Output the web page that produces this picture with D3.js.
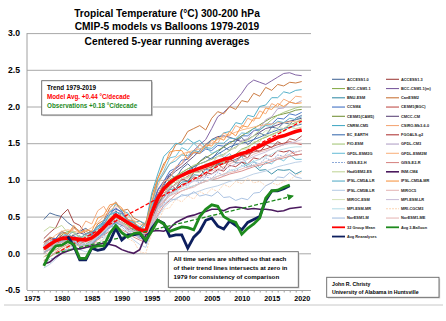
<!DOCTYPE html>
<html><head><meta charset="utf-8">
<script src="https://cdn.jsdelivr.net/npm/d3@7"></script>
<style>
html,body{margin:0;padding:0;background:#fff;}
svg{display:block;font-family:"Liberation Sans",Arial,sans-serif;}
</style></head><body>
<svg id="c" width="446" height="321"></svg>
<script>
// ---------- DATA ----------
const modelStart = 1977;   // centered 5-yr averages, models 1977-2020
const balloonStart = 1977; // 1977-2018
const reanStart = 1981;    // 1981-2018
const yTicks = [-0.5, 0, 0.5, 1.0, 1.5, 2.0, 2.5, 3.0];
const xLabels = [1975, 1980, 1985, 1990, 1995, 2000, 2005, 2010, 2015, 2020];

const legendNames = ["ACCESS1.0","ACCESS1.3","BCC-CSM1.1","BCC-CSM1.1(m)","BNU-ESM","CanESM2","CCSM4","CESM1(BGC)",
 "CESM1(CAM5)","CMCC-CM","CNRM-CM5","CSIRO-Mk3-6-0","EC_EARTH","FGOALS-g2","FIO-ESM","GFDL-CM3","GFDL-ESM2G","GFDL-ESM2M",
 "GISS-E2-H","GISS-E2-R","HadGEM2-ES","INM-CM4","IPSL-CM5A-LR","IPSL-CM5A-MR","IPSL-CM5B-LR","MIROC5","MIROC-ESM",
 "MPI-ESM-LR","MPI-ESM-MR","MRI-CGCM3","NorESM1-M","NorESM1-ME","32 Group Mean","Avg 3-Balloon","Avg Reanalyses"];

const ACCESS1_0 = [0.46,0.55,0.52,0.50,0.42,0.36,0.30,0.34,0.28,0.33,0.42,0.38,0.55,0.46,0.40,0.30,0.22,0.28,0.52,0.80,0.92,1.08,1.02,1.15,1.22,1.14,1.25,1.32,1.28,1.38,1.45,1.40,1.52,1.58,1.48,1.55,1.64,1.60,1.72,1.70,1.78,1.76,1.84,1.88];
const ACCESS1_3 = [0.20,0.28,0.35,0.52,0.60,0.42,0.38,0.26,0.30,0.24,0.40,0.48,0.44,0.55,0.42,0.40,0.30,0.34,0.48,0.72,0.80,0.94,0.88,1.02,0.98,1.10,1.16,1.06,1.18,1.22,1.15,1.28,1.24,1.34,1.30,1.42,1.38,1.48,1.44,1.52,1.48,1.56,1.54,1.60];
const BCC_CSM1_1 = [0.00,0.10,0.15,0.25,0.30,0.28,0.22,0.18,0.20,0.25,0.30,0.40,0.48,0.42,0.38,0.30,0.28,0.25,0.45,0.65,0.80,0.92,1.00,1.05,1.08,1.10,1.15,1.18,1.20,1.22,1.25,1.30,1.35,1.42,1.45,1.50,1.55,1.58,1.62,1.65,1.70,1.75,1.78,1.82];
const BCC_CSM1_1m = [0.10,0.15,0.20,0.22,0.25,0.20,0.18,0.20,0.25,0.30,0.40,0.52,0.62,0.55,0.45,0.40,0.35,0.32,0.60,0.85,0.98,1.08,1.15,1.22,1.30,1.40,1.48,1.55,1.70,1.86,1.92,2.00,2.08,2.18,2.30,2.36,2.33,2.30,2.35,2.40,2.45,2.46,2.43,2.42];
const BNU_ESM = [0.05,0.12,0.10,0.17,0.16,0.17,0.10,0.12,0.13,0.22,0.26,0.37,0.43,0.42,0.33,0.32,0.23,0.27,0.43,0.67,0.76,0.87,0.88,0.97,0.98,1.07,1.06,1.14,1.13,1.22,1.23,1.30,1.23,1.24,1.18,1.20,1.13,1.14,1.08,1.14,1.13,1.14,1.08,1.12];
const CanESM2 = [0.15,0.22,0.20,0.30,0.26,0.35,0.28,0.30,0.26,0.40,0.45,0.62,0.70,0.58,0.60,0.48,0.44,0.38,0.78,1.02,1.22,1.32,1.48,1.52,1.66,1.70,1.74,1.68,1.84,1.93,1.90,2.00,1.96,2.08,2.06,2.18,2.14,2.26,2.22,2.30,2.28,2.33,2.32,2.34];
const CCSM4 = [0.12,0.20,0.20,0.30,0.23,0.24,0.18,0.24,0.26,0.37,0.43,0.57,0.60,0.57,0.46,0.42,0.33,0.40,0.63,0.87,0.98,1.12,1.16,1.27,1.28,1.37,1.36,1.42,1.40,1.47,1.46,1.52,1.53,1.60,1.60,1.67,1.68,1.76,1.76,1.84,1.83,1.90,1.88,1.92];
const CESM1_BGC = [0.00,0.05,0.12,0.18,0.22,0.20,0.15,0.12,0.15,0.22,0.30,0.38,0.45,0.40,0.35,0.30,0.28,0.25,0.48,0.68,0.80,0.88,0.95,1.00,1.05,1.10,1.12,1.15,1.18,1.20,1.22,1.25,1.28,1.32,1.35,1.38,1.40,1.42,1.45,1.48,1.50,1.52,1.50,1.48];
const CESM1_CAM5 = [-0.05,0.00,0.05,0.10,0.15,0.18,0.15,0.12,0.18,0.25,0.35,0.42,0.50,0.45,0.40,0.35,0.30,0.28,0.50,0.72,0.90,1.00,1.05,1.10,1.15,1.18,1.25,1.30,1.35,1.40,1.45,1.50,1.55,1.60,1.65,1.70,1.75,1.80,1.85,1.88,1.90,1.92,1.95,1.96];
const CMCC_CM = [0.10,0.12,0.15,0.18,0.20,0.25,0.28,0.25,0.22,0.28,0.35,0.45,0.58,0.50,0.42,0.38,0.35,0.33,0.58,0.80,0.95,1.05,1.12,1.18,1.25,1.32,1.40,1.48,1.55,1.59,1.60,1.58,1.55,1.52,1.55,1.60,1.65,1.70,1.72,1.75,1.78,1.80,1.82,1.84];
const CNRM_CM5 = [0.08,0.15,0.12,0.22,0.28,0.20,0.24,0.16,0.25,0.30,0.45,0.52,0.68,0.58,0.55,0.42,0.44,0.40,0.82,1.08,1.32,1.40,1.50,1.48,1.56,1.50,1.54,1.44,1.55,1.56,1.64,1.66,1.78,1.76,1.88,1.86,2.00,2.02,2.12,2.12,2.20,2.18,2.22,2.23];
const CSIRO_Mk3_6_0 = [0.05,0.10,0.08,0.20,0.22,0.34,0.30,0.44,0.40,0.58,0.64,0.50,0.52,0.38,0.36,0.28,0.30,0.26,0.58,0.78,0.98,1.02,1.18,1.22,1.38,1.36,1.48,1.42,1.54,1.50,1.64,1.60,1.74,1.70,1.84,1.80,1.94,1.90,2.04,2.00,2.10,2.06,2.14,2.13];
const EC_EARTH = [0.02,0.05,0.10,0.15,0.18,0.15,0.10,0.08,0.12,0.20,0.28,0.35,0.42,0.38,0.35,0.32,0.30,0.28,0.48,0.70,0.85,0.95,1.02,1.08,1.12,1.18,1.22,1.25,1.30,1.35,1.40,1.45,1.48,1.50,1.52,1.55,1.58,1.62,1.65,1.68,1.70,1.72,1.74,1.76];
const FGOALS_g2 = [0.15,0.20,0.18,0.24,0.18,0.20,0.12,0.17,0.18,0.30,0.33,0.42,0.44,0.42,0.33,0.34,0.28,0.32,0.46,0.64,0.70,0.82,0.86,0.94,0.96,1.04,1.02,1.10,1.08,1.14,1.12,1.20,1.18,1.24,1.22,1.30,1.28,1.34,1.32,1.40,1.38,1.40,1.34,1.35];
const FIO_ESM = [-0.10,-0.05,0.00,0.05,0.10,0.12,0.10,0.12,0.18,0.25,0.32,0.40,0.48,0.42,0.38,0.32,0.28,0.30,0.52,0.72,0.88,0.98,1.05,1.10,1.15,1.20,1.22,1.25,1.28,1.32,1.35,1.40,1.45,1.50,1.55,1.60,1.68,1.75,1.82,1.88,1.92,1.95,1.98,2.00];
const GFDL_CM3 = [0.05,0.12,0.13,0.22,0.20,0.22,0.16,0.17,0.16,0.24,0.28,0.40,0.43,0.42,0.33,0.30,0.23,0.24,0.40,0.64,0.76,0.90,0.93,1.02,1.03,1.12,1.13,1.22,1.23,1.32,1.33,1.42,1.43,1.54,1.56,1.67,1.70,1.82,1.86,1.97,1.98,2.06,2.04,2.08];
const GFDL_ESM2G = [0.10,0.18,0.14,0.28,0.24,0.30,0.20,0.24,0.22,0.36,0.38,0.54,0.56,0.54,0.42,0.44,0.32,0.38,0.62,0.98,1.12,1.30,1.32,1.44,1.40,1.50,1.42,1.46,1.36,1.40,1.30,1.36,1.26,1.32,1.20,1.26,1.16,1.24,1.22,1.30,1.26,1.34,1.28,1.28];
const GFDL_ESM2M = [0.12,0.18,0.25,0.30,0.32,0.30,0.28,0.30,0.35,0.42,0.50,0.58,0.65,0.60,0.52,0.45,0.40,0.38,0.68,0.92,1.10,1.22,1.30,1.35,1.38,1.40,1.42,1.45,1.50,1.55,1.58,1.62,1.65,1.68,1.70,1.72,1.74,1.75,1.76,1.78,1.78,1.79,1.80,1.80];
const GISS_E2_H = [-0.15,-0.08,-0.06,0.04,0.06,0.12,0.05,0.08,0.08,0.20,0.22,0.35,0.38,0.36,0.28,0.26,0.20,0.22,0.38,0.60,0.68,0.80,0.82,0.92,0.92,1.00,0.96,1.04,1.02,1.10,1.06,1.14,1.12,1.20,1.16,1.24,1.22,1.30,1.26,1.34,1.32,1.40,1.38,1.40];
const GISS_E2_R = [-0.10,-0.05,0.02,0.08,0.12,0.15,0.12,0.10,0.12,0.18,0.25,0.30,0.38,0.32,0.28,0.22,0.18,0.15,0.35,0.52,0.65,0.72,0.80,0.85,0.88,0.92,0.95,0.98,1.00,1.02,1.05,1.08,1.10,1.12,1.15,1.18,1.20,1.22,1.25,1.28,1.30,1.32,1.34,1.35];
const HadGEM2_ES = [0.30,0.36,0.34,0.38,0.28,0.30,0.22,0.24,0.22,0.32,0.36,0.48,0.50,0.50,0.40,0.40,0.32,0.34,0.52,0.78,0.86,0.98,0.96,1.05,1.02,1.10,1.10,1.18,1.15,1.25,1.22,1.33,1.32,1.42,1.42,1.52,1.52,1.62,1.60,1.66,1.66,1.72,1.70,1.72];
const INM_CM4 = [-0.15,-0.12,-0.05,0.00,0.03,0.06,0.06,0.08,0.10,0.12,0.14,0.12,0.10,0.05,0.02,0.00,0.05,0.25,0.30,0.31,0.30,0.34,0.42,0.46,0.50,0.52,0.55,0.57,0.60,0.60,0.58,0.62,0.63,0.62,0.60,0.61,0.60,0.60,0.59,0.57,0.58,0.61,0.62,0.63];
const IPSL_CM5A_LR = [0.05,0.10,0.10,0.17,0.16,0.22,0.20,0.27,0.28,0.37,0.40,0.52,0.56,0.54,0.43,0.42,0.36,0.42,0.68,0.97,1.08,1.22,1.26,1.34,1.33,1.40,1.38,1.44,1.43,1.50,1.50,1.57,1.56,1.64,1.63,1.70,1.68,1.74,1.73,1.80,1.78,1.84,1.82,1.86];
const IPSL_CM5A_MR = [0.05,0.12,0.16,0.28,0.26,0.38,0.28,0.32,0.30,0.48,0.52,0.66,0.68,0.62,0.46,0.44,0.32,0.42,0.70,1.02,1.18,1.38,1.40,1.40,1.28,1.38,1.36,1.48,1.46,1.58,1.54,1.66,1.60,1.74,1.72,1.84,1.84,1.98,1.96,2.04,2.00,2.06,2.04,2.05];
const IPSL_CM5B_LR = [-0.20,-0.15,-0.08,0.00,0.05,0.08,0.05,0.02,0.05,0.12,0.20,0.28,0.35,0.30,0.25,0.18,0.12,0.08,0.30,0.50,0.62,0.70,0.75,0.78,0.80,0.82,0.85,0.88,0.90,0.92,0.95,0.98,1.00,1.02,1.05,1.08,1.10,1.12,1.15,1.18,1.20,1.22,1.24,1.25];
const MIROC5 = [0.00,0.05,0.08,0.12,0.15,0.12,0.10,0.10,0.15,0.22,0.30,0.38,0.45,0.40,0.32,0.25,0.20,0.18,0.35,0.55,0.70,0.78,0.85,0.90,0.95,1.00,1.05,1.10,1.12,1.15,1.18,1.22,1.25,1.28,1.30,1.35,1.38,1.40,1.42,1.45,1.48,1.50,1.50,1.50];
const MIROC_ESM = [0.05,0.12,0.13,0.22,0.20,0.27,0.20,0.22,0.23,0.32,0.36,0.50,0.53,0.52,0.43,0.40,0.28,0.30,0.48,0.72,0.80,0.92,0.93,1.02,1.03,1.12,1.13,1.22,1.23,1.32,1.33,1.42,1.43,1.52,1.53,1.60,1.60,1.67,1.66,1.72,1.70,1.76,1.74,1.78];
const MPI_ESM_LR = [0.10,0.15,0.18,0.20,0.18,0.15,0.12,0.15,0.20,0.25,0.32,0.40,0.48,0.42,0.35,0.30,0.28,0.26,0.45,0.62,0.75,0.82,0.88,0.92,0.95,0.98,1.02,1.05,1.08,1.12,1.15,1.18,1.22,1.25,1.28,1.32,1.35,1.38,1.42,1.45,1.48,1.50,1.52,1.55];
const MPI_ESM_MR = [0.08,0.12,0.15,0.18,0.20,0.18,0.15,0.12,0.15,0.22,0.30,0.38,0.45,0.40,0.35,0.30,0.25,0.24,0.42,0.60,0.72,0.80,0.85,0.88,0.90,0.92,0.95,0.98,1.00,1.05,1.08,1.12,1.15,1.18,1.22,1.25,1.28,1.32,1.35,1.40,1.42,1.44,1.45,1.45];
const MRI_CGCM3 = [-0.05,0.02,0.04,0.10,0.06,0.14,0.08,0.10,0.06,0.18,0.18,0.30,0.34,0.32,0.20,0.16,0.02,0.00,0.28,0.42,0.60,0.62,0.74,0.70,0.78,0.74,0.84,0.80,0.88,0.84,0.94,0.90,0.98,0.95,1.02,0.96,0.98,0.92,0.96,0.93,0.98,1.00,1.06,1.10];
const NorESM1_M = [0.00,0.07,0.08,0.17,0.16,0.17,0.10,0.12,0.13,0.22,0.26,0.37,0.40,0.40,0.30,0.30,0.20,0.22,0.38,0.60,0.66,0.74,0.73,0.80,0.78,0.84,0.78,0.80,0.78,0.84,0.76,0.77,0.72,0.75,0.73,0.82,0.83,0.92,0.96,1.04,1.03,1.10,1.04,1.02];
const NorESM1_ME = [0.02,0.08,0.12,0.15,0.18,0.20,0.18,0.15,0.18,0.25,0.32,0.38,0.45,0.40,0.35,0.30,0.25,0.22,0.42,0.60,0.72,0.78,0.82,0.85,0.88,0.90,0.95,0.98,1.02,1.05,1.08,1.10,1.12,1.15,1.18,1.20,1.22,1.25,1.28,1.30,1.32,1.35,1.38,1.40];

const groupMean = [0.06,0.12,0.17,0.20,0.21,0.20,0.19,0.18,0.21,0.27,0.35,0.44,0.52,0.47,0.42,0.37,0.32,0.30,0.55,0.75,0.88,0.96,1.02,1.06,1.10,1.13,1.16,1.19,1.22,1.25,1.28,1.30,1.33,1.36,1.38,1.42,1.46,1.50,1.54,1.58,1.60,1.63,1.66,1.68];
const balloonAvg = [-0.17,0.00,0.10,0.11,0.16,0.12,-0.07,-0.07,0.08,0.10,0.10,0.27,0.38,0.28,0.22,0.27,0.28,0.18,0.30,0.45,0.40,0.30,0.33,0.36,0.35,0.32,0.50,0.60,0.66,0.64,0.50,0.45,0.42,0.26,0.34,0.40,0.48,0.75,0.85,0.86,0.90,0.93];
const reanalysesAvg = [0.23,0.10,-0.09,-0.09,0.07,0.04,0.06,0.16,0.34,0.18,0.25,0.25,0.27,0.16,0.34,0.45,0.41,0.23,0.25,0.25,0.07,0.22,0.30,0.45,0.48,0.37,0.33,0.44,0.38,0.32,0.42,0.46,0.50,0.72,0.85,0.85,0.88,0.92];

// trend lines (start year/value, end year/value)
const modelTrend = [[1979, 0.0], [2020, 1.80]];
const obsTrend = [[1979, 0.0], [2018.5, 0.78]];

const modelSeries = [ACCESS1_0,ACCESS1_3,BCC_CSM1_1,BCC_CSM1_1m,BNU_ESM,CanESM2,CCSM4,CESM1_BGC,CESM1_CAM5,CMCC_CM,
 CNRM_CM5,CSIRO_Mk3_6_0,EC_EARTH,FGOALS_g2,FIO_ESM,GFDL_CM3,GFDL_ESM2G,GFDL_ESM2M,GISS_E2_H,GISS_E2_R,HadGEM2_ES,
 INM_CM4,IPSL_CM5A_LR,IPSL_CM5A_MR,IPSL_CM5B_LR,MIROC5,MIROC_ESM,MPI_ESM_LR,MPI_ESM_MR,MRI_CGCM3,NorESM1_M,NorESM1_ME];

// ---------- STYLES ----------
const colors = ["#4a6b9a","#a0413f","#8bae4f","#7d5fa0","#3a8fa8","#c8753a","#4472c4","#c0504d","#77933c","#5f497a",
 "#4bacc6","#f4a97a","#3f6fb0","#b03a3a","#a6c77a","#b3a2c7","#6fc0d8","#f9b482","#8eaad8","#d88a88","#c3d69b",
 "#4b1a5e","#5aaec8","#f79646","#b9cde5","#e6b9b8","#d7e4bd","#ccc1da","#b7dee8","#fcd5b5","#a5bfe0","#e6b9b8",
 "#ff0000","#1e8a1e","#0d1f5e"];
const dashed = {18: "2,1", 29: "2,1"};

// ---------- CHART ----------
const svg = d3.select("#c");
const x = d3.scaleLinear().domain([1974.2, 2021.55]).range([27, 311]);
const y = d3.scaleLinear().domain([-0.5, 3.0]).range([290, 33.1]);
const font = "'Liberation Sans',Arial,sans-serif";

// outer border line
svg.append("line").attr("x1",4).attr("x2",443).attr("y1",305).attr("y2",305).attr("stroke","#c8c8c8").attr("stroke-width",1);

// gridlines + y labels
const yAxis = svg.append("g").attr("transform","translate(27,0)")
  .call(d3.axisLeft(y).tickValues(yTicks).tickSize(-284).tickPadding(7).tickFormat(d => d.toFixed(1)));
yAxis.select(".domain").remove();
yAxis.selectAll(".tick line").attr("stroke","#a8a8a8").attr("stroke-width",1);
yAxis.selectAll(".tick text").attr("font-family",font).attr("font-weight","bold").attr("font-size","8.6px").attr("fill","#000");
svg.append("line").attr("x1",27).attr("x2",27).attr("y1",y(3.0)).attr("y2",y(-0.5)).attr("stroke","#a0a0a0");

// x axis minor ticks + labels
const xMinor = svg.append("g").attr("transform","translate(0,290)")
  .call(d3.axisBottom(x).tickValues(d3.range(1975, 2021)).tickSize(2.5).tickFormat(""));
xMinor.select(".domain").attr("stroke","#a0a0a0").attr("d", `M27,0.5H311`);
xMinor.selectAll(".tick line").attr("stroke","#a0a0a0");
const xAxis = svg.append("g").attr("transform","translate(0,290)")
  .call(d3.axisBottom(x).tickValues(xLabels).tickSize(0).tickPadding(6).tickFormat(d3.format("d")));
xAxis.select(".domain").remove();
xAxis.selectAll(".tick text").attr("font-family",font).attr("font-weight","bold").attr("font-size","7.2px").attr("fill","#000");

// lines
const line = (start) => d3.line().x((d,i) => x(start + i)).y(d => y(d));
const gLines = svg.append("g").attr("fill","none");
modelSeries.forEach((s, i) => {
  if (i === 21) return;
  gLines.append("path").attr("d", line(modelStart)(s)).attr("stroke", colors[i])
    .attr("stroke-width", 0.95).attr("stroke-dasharray", dashed[i] || null);
});
gLines.append("path").attr("d", line(modelStart)(INM_CM4)).attr("stroke", colors[21]).attr("stroke-width", 1.6);
gLines.append("path").attr("d", line(modelStart)(groupMean)).attr("stroke", colors[32]).attr("stroke-width", 3.6)
  .attr("stroke-linejoin","round");
const tl = d3.line().x(d => x(d[0])).y(d => y(d[1]));
gLines.append("path").attr("d", tl(modelTrend)).attr("stroke","#ff0000").attr("stroke-width",1.3).attr("stroke-dasharray","4,2");
svg.append("defs").append("marker").attr("id","arr").attr("viewBox","0 0 10 10").attr("refX",8).attr("refY",5)
  .attr("markerWidth",5).attr("markerHeight",5).attr("orient","auto")
  .append("path").attr("d","M0,0L10,5L0,10z").attr("fill","#1e8a1e");
gLines.append("path").attr("d", tl(obsTrend)).attr("stroke","#1e8a1e").attr("stroke-width",1.3).attr("stroke-dasharray","4,2")
  .attr("marker-end","url(#arr)");
gLines.append("path").attr("d", line(reanStart)(reanalysesAvg)).attr("stroke", colors[34]).attr("stroke-width", 2.8);
gLines.append("path").attr("d", line(balloonStart)(balloonAvg)).attr("stroke", colors[33]).attr("stroke-width", 2.8);

// title
const titles = ["Tropical Temperature (°C) 300-200 hPa","CMIP-5 models vs Balloons 1979-2019","Centered 5-year running averages"];
const titleY = [16.5, 29.5, 45];
titles.forEach((t, i) => svg.append("text").attr("x",167).attr("y",titleY[i]).attr("text-anchor","middle")
  .attr("font-family",font).attr("font-weight","bold").attr("font-size","10.2px").text(t));

// legend
legendNames.forEach((n, i) => {
  const row = Math.floor(i/2), col = i % 2;
  const lx = col === 0 ? 332 : 386;
  const ly = 79.3 + row * 9.25;
  const w = i >= 32 ? 1.8 : (i === 21 ? 1.6 : 1.1);
  svg.append("line").attr("x1",lx).attr("x2",lx+13).attr("y1",ly).attr("y2",ly).attr("stroke",colors[i])
    .attr("stroke-width",w).attr("stroke-dasharray", dashed[i] || null);
  svg.append("text").attr("x",lx+15).attr("y",ly+1.4).attr("font-family",font).attr("font-size","3.9px")
    .attr("font-weight","bold").attr("fill","#222").text(n);
});

// boxes
function box(bx, by, bw, bh, lines, size, lh) {
  svg.append("rect").attr("x",bx+1.2).attr("y",by+1.2).attr("width",bw).attr("height",bh).attr("fill","#d0d0d0");
  svg.append("rect").attr("x",bx).attr("y",by).attr("width",bw).attr("height",bh).attr("fill","#fff")
    .attr("stroke","#666").attr("stroke-width",0.9);
  lines.forEach((l, i) => svg.append("text").attr("x",bx+5.3).attr("y",by+8.8+i*lh).attr("font-family",font)
    .attr("font-weight","bold").attr("font-size",size).attr("fill",l[1]).text(l[0]));
}
box(41.7, 80.7, 110, 34.3, [["Trend 1979-2019","#000"],["Model Avg. +0.44 °C/decade","#ff0000"],["Observations +0.18 °C/decade","#1e8a1e"]], "6.3px", 9);
box(168.3, 251.7, 130, 35.6, [["All time series are shifted so that each","#000"],["of their trend lines intersects at zero in","#000"],["1979 for consistency of comparison","#000"]], "6.2px", 9);
box(326.7, 277.3, 112.3, 20, [["John R. Christy","#000"],["University of Alabama in Huntsville","#000"]], "5.2px", 7.4);
</script></body></html>
